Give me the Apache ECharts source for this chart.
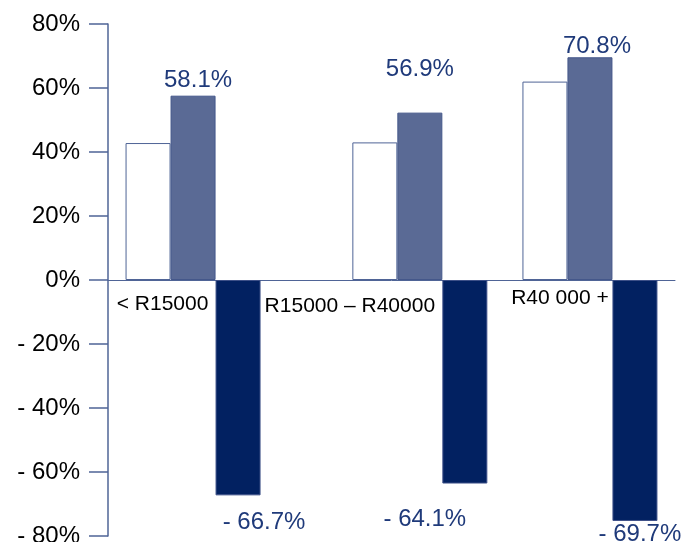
<!DOCTYPE html>
<html>
<head>
<meta charset="utf-8">
<script src="https://cdn.jsdelivr.net/npm/echarts@6/dist/echarts.min.js"></script>
<style>
  html, body { margin: 0; padding: 0; background: #ffffff; }
  #chart { width: 696px; height: 542px; }
</style>
</head>
<body>
<div id="chart"></div>
<script>
// ---- data ----
const categories = ['< R15000', 'R15000 – R40000', 'R40 000 +'];
const baselineValues = [42.8, 43.0, 62.0];      // white bars
const currentValues = [57.6, 52.3, 69.6];       // blue-grey bars
const negativeValues = [-67.3, -63.6, -75.3];   // navy bars
const currentLabels = ['58.1%', '56.9%', '70.8%'];
const negativeLabels = ['- 66.7%', '- 64.1%', '- 69.7%'];
const yTickValues = [-80, -60, -40, -20, 0, 20, 40, 60, 80];
const yTickLabels = ['- 80%', '- 60%', '- 40%', '- 20%', '0%', '20%', '40%', '60%', '80%'];

// ---- layout (not data) ----
const SLOT_COUNT = 10;
const groupSlots = [1, 5, 8];
const GRID_TOP = 24, GRID_BOTTOM = 6, CHART_H = 542;
const catLabelPad = [[10, 61, 0, 0], [12, 140, 0, 0], [4, 60, 0, 0]];
const currentLabelOffset = [[5, 0], [0, -28], [7, 4]];
const negativeLabelOffset = [[26, 15], [-40, 24], [5, 1]];

const FONT = '"Liberation Sans", Arial, sans-serif';
const AXIS_COLOR = '#4F6496';
const LABEL_BLUE = '#1F3A7A';

const slotData = [];
for (let i = 0; i < SLOT_COUNT; i++) {
  const g = groupSlots.indexOf(i);
  if (g >= 0) {
    slotData.push({ value: categories[g], textStyle: { padding: catLabelPad[g] } });
  } else {
    slotData.push({ value: '_slot' + i });
  }
}

function buildSeriesData(values, labelOffsets) {
  const out = [];
  for (let i = 0; i < SLOT_COUNT; i++) {
    const g = groupSlots.indexOf(i);
    if (g >= 0) {
      const item = { value: values[g], groupIndex: g };
      if (labelOffsets) item.label = { offset: labelOffsets[g] };
      out.push(item);
    } else {
      out.push('-');
    }
  }
  return out;
}

// the value range is symmetric, so the zero line sits half the plot height above the bottom
const halfPlot = (CHART_H - GRID_TOP - GRID_BOTTOM) / 2;

const chart = echarts.init(document.getElementById('chart'), null, { renderer: 'canvas' });
chart.setOption({
  animation: false,
  backgroundColor: '#ffffff',
  grid: { left: 108, right: 21, top: GRID_TOP, bottom: GRID_BOTTOM, containLabel: false, outerBoundsMode: 'none' },
  xAxis: {
    type: 'category',
    data: slotData,
    boundaryGap: true,
    position: 'bottom',
    offset: -halfPlot,
    axisLine: { onZero: false, lineStyle: { color: AXIS_COLOR, width: 1 } },
    axisTick: { show: false },
    splitLine: { show: false },
    axisLabel: {
      interval: 0,
      margin: 4,
      color: '#000000',
      fontFamily: FONT,
      fontSize: 21,
      formatter: function (v) { return v.indexOf('_slot') === 0 ? '' : v; }
    }
  },
  yAxis: {
    type: 'value',
    min: -80,
    max: 80,
    interval: 20,
    axisLine: { show: true, lineStyle: { color: AXIS_COLOR, width: 1.5 } },
    axisTick: { show: true, inside: false, length: 19, lineStyle: { color: AXIS_COLOR, width: 1.5 } },
    splitLine: { show: false },
    axisLabel: {
      margin: 28,
      color: '#000000',
      fontFamily: FONT,
      fontSize: 24,
      formatter: function (v) {
        const idx = yTickValues.indexOf(Math.round(v));
        return idx >= 0 ? yTickLabels[idx] : '';
      }
    }
  },
  series: [
    {
      type: 'bar',
      name: 'base',
      barWidth: 45,
      barGap: '0%',
      data: buildSeriesData(baselineValues, null),
      itemStyle: { color: '#ffffff', borderColor: AXIS_COLOR, borderWidth: 1 }
    },
    {
      type: 'bar',
      name: 'current',
      barWidth: 45,
      barGap: '0%',
      data: buildSeriesData(currentValues, currentLabelOffset),
      itemStyle: { color: '#5A6A95', borderColor: '#44578A', borderWidth: 1 },
      label: {
        show: true,
        position: 'top',
        distance: 3,
        color: LABEL_BLUE,
        fontFamily: FONT,
        fontSize: 24,
        formatter: function (p) { return currentLabels[p.data.groupIndex]; }
      }
    },
    {
      type: 'bar',
      name: 'negative',
      barWidth: 45,
      barGap: '0%',
      data: buildSeriesData(negativeValues, negativeLabelOffset),
      itemStyle: { color: '#022161', borderColor: '#3D5088', borderWidth: 1 },
      label: {
        show: true,
        position: 'bottom',
        distance: 0,
        color: LABEL_BLUE,
        fontFamily: FONT,
        fontSize: 24,
        formatter: function (p) { return negativeLabels[p.data.groupIndex]; }
      }
    }
  ]
});
</script>
</body>
</html>
